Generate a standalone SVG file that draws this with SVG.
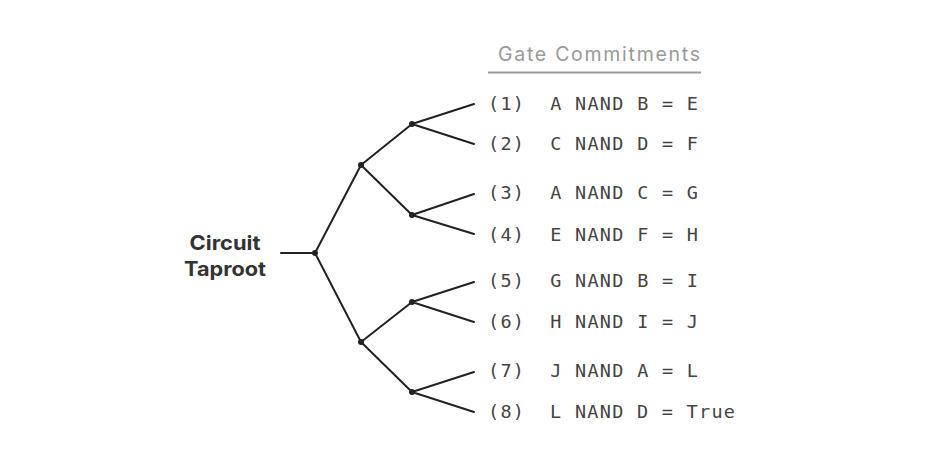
<svg xmlns="http://www.w3.org/2000/svg" width="933" height="470" viewBox="0 0 933 470">
  <style>
    .edge { stroke: #222; stroke-width: 2; fill: none; stroke-linecap: round; }
    .dot { fill: #222; }
    .root { font-family: Inter, "Liberation Sans", sans-serif; font-weight: 700; font-size: 20px; fill: #333; text-anchor: middle; }
    .title { font-family: Inter, "Liberation Sans", sans-serif; font-size: 19.5px; fill: #999; }
    .row { font-family: "DejaVu Sans Mono", "Liberation Mono", monospace; font-size: 18.5px; fill: #444; white-space: pre; }
  </style>
  <rect width="933" height="470" fill="#fff"/>

  <g id="connectors">
    <path class="edge" d="M281 253 H315"/>
    <path class="edge" d="M315 253 L361 165 M315 253 L361 342"/>
    <path class="edge" d="M361 165 L412 124 M361 165 L412 215"/>
    <path class="edge" d="M361 342 L412 302 M361 342 L412 392"/>
    <path class="edge" d="M412 124 L474 104 M412 124 L474 144"/>
    <path class="edge" d="M412 215 L474 194 M412 215 L474 234"/>
    <path class="edge" d="M412 302 L474 282 M412 302 L474 322"/>
    <path class="edge" d="M412 392 L474 372 M412 392 L474 412"/>
  </g>

  <g id="junctions">
    <circle class="dot" cx="315" cy="253" r="3"/>
    <circle class="dot" cx="361" cy="165" r="3"/>
    <circle class="dot" cx="361" cy="342" r="3"/>
    <circle class="dot" cx="412" cy="124" r="3"/>
    <circle class="dot" cx="412" cy="215" r="3"/>
    <circle class="dot" cx="412" cy="302" r="3"/>
    <circle class="dot" cx="412" cy="392" r="3"/>
  </g>

  <g id="root">
    <text class="root" x="225" y="250" textLength="71" lengthAdjust="spacingAndGlyphs">Circuit</text>
    <text class="root" x="225" y="276" textLength="82" lengthAdjust="spacingAndGlyphs">Taproot</text>
  </g>

  <g id="title">
    <text class="title" x="498" y="61" textLength="202" lengthAdjust="spacing">Gate Commitments</text>
    <line x1="488" y1="72.5" x2="701" y2="72.5" stroke="#999" stroke-width="2"/>
  </g>

  <g id="gate1"><text class="row" x="488" y="110" textLength="210" lengthAdjust="spacing">(1)  A NAND B = E</text></g>
  <g id="gate2"><text class="row" x="488" y="150" textLength="210" lengthAdjust="spacing">(2)  C NAND D = F</text></g>
  <g id="gate3"><text class="row" x="488" y="199" textLength="210" lengthAdjust="spacing">(3)  A NAND C = G</text></g>
  <g id="gate4"><text class="row" x="488" y="241" textLength="210" lengthAdjust="spacing">(4)  E NAND F = H</text></g>
  <g id="gate5"><text class="row" x="488" y="287" textLength="210" lengthAdjust="spacing">(5)  G NAND B = I</text></g>
  <g id="gate6"><text class="row" x="488" y="328" textLength="210" lengthAdjust="spacing">(6)  H NAND I = J</text></g>
  <g id="gate7"><text class="row" x="488" y="377" textLength="210" lengthAdjust="spacing">(7)  J NAND A = L</text></g>
  <g id="gate8"><text class="row" x="488" y="418" textLength="247" lengthAdjust="spacing">(8)  L NAND D = True</text></g>
</svg>
